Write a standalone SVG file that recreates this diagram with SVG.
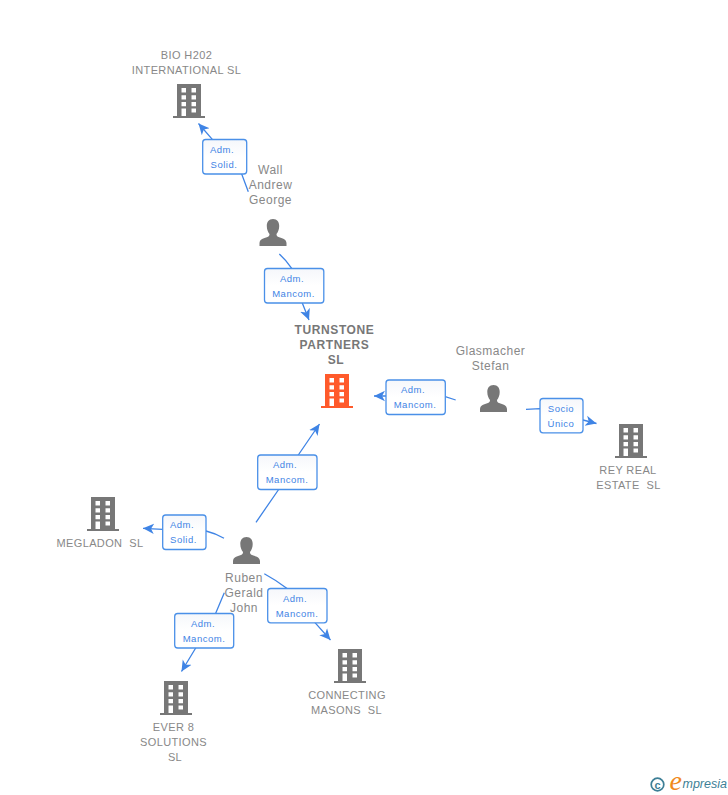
<svg xmlns="http://www.w3.org/2000/svg" xmlns:xlink="http://www.w3.org/1999/xlink" width="728" height="795" viewBox="0 0 728 795">
<style>
text{font-family:"Liberation Sans",Arial,sans-serif}
.n{font-size:11px;fill:#888;text-anchor:middle;letter-spacing:.38px;white-space:pre}
.p{font-size:12px;fill:#888;text-anchor:middle;letter-spacing:.5px}
.main{font-size:12px;fill:#777;font-weight:bold;text-anchor:middle;letter-spacing:.6px}
.l{font-size:9.5px;fill:#3f84e5;text-anchor:middle;letter-spacing:.5px}
.box{fill:url(#bg);stroke:#4a90e8;stroke-width:1.3}
.c{fill:none;stroke:#3f84e5;stroke-width:1.3}
</style>
<defs>
<linearGradient id="bg" x1="0" y1="0" x2="0" y2="1"><stop offset="0" stop-color="#f5f7fb"/><stop offset=".5" stop-color="#fff"/></linearGradient>
<marker id="arr" markerUnits="userSpaceOnUse" markerWidth="12" markerHeight="12" refX="11" refY="6" orient="auto"><path d="M0 .8 L11 6 L0 11.2 L3 6z" fill="#3f84e5"/></marker>
<symbol id="bld" overflow="visible"><path fill-rule="evenodd" d="M0 0H24V32H28V34H-4V32H0ZM4.500 4V8.500H9V4ZM14.500 4V8.500H19V4ZM4.500 11.300V15.600H9V11.300ZM14.500 11.300V15.600H19V11.300ZM4.500 18V22.300H9V18ZM14.500 18V22.300H19V18ZM4.500 24.500V32H9V24.500ZM14.500 24.500V28.500H19V24.500Z"/></symbol>
<symbol id="per" overflow="visible"><path d="M13.5 0C9.3 0 7.3 3.2 7.3 7C7.3 10.5 8.5 13 10 15C10 16.5 9.6 17.4 8 18C4 19.4 .3 20 0 24V27H27V24C26.7 20 23 19.4 19 18C17.4 17.4 17 16.5 17 15C18.5 13 19.7 10.5 19.7 7C19.7 3.2 17.7 0 13.5 0Z"/></symbol>
</defs>
<g id="connectors">
<path class="c" marker-end="url(#arr)" d="M248.3 191.7L241.7 174L212.3 139.3L198.5 123.5"/>
<path class="c" marker-end="url(#arr)" d="M279.3 254Q286 260 291.7 268.3L302.3 303L309 320"/>
<path class="c" marker-end="url(#arr)" d="M455.7 400L445.3 396.7L386 396L374 396"/>
<path class="c" marker-end="url(#arr)" d="M526 409.3L540 408.7L583 420L596.5 423.5"/>
<path class="c" marker-end="url(#arr)" d="M256 522.3L278.3 490L298.3 455L319.5 424"/>
<path class="c" marker-end="url(#arr)" d="M224 538.3Q216 533.5 206 531L162.7 529.3L143 528.3"/>
<path class="c" marker-end="url(#arr)" d="M264.3 573.7Q276 580 286.7 588.3L315 622.7L330.5 640"/>
<path class="c" marker-end="url(#arr)" d="M224.3 592.7L215.7 613.3L195.7 648L181.5 671.5"/>
</g>
<g id="node-bio"><use href="#bld" x="177" y="84" fill="#777"/><text class="n" x="186.500" y="59">BIO H202</text><text class="n" x="186.500" y="74">INTERNATIONAL SL</text></g>
<g id="node-wall"><use href="#per" x="259.500" y="219" fill="#777"/><text class="p" x="270.500" y="174">Wall</text><text class="p" x="270.500" y="189">Andrew</text><text class="p" x="270.500" y="204">George</text></g>
<g id="node-turnstone"><use href="#bld" x="325" y="374" fill="#ff5a2b"/><text class="main" x="334.500" y="334">TURNSTONE</text><text class="main" x="334.500" y="349">PARTNERS</text><text class="main" x="336" y="364">SL</text></g>
<g id="node-glasmacher"><use href="#per" x="480" y="385" fill="#777"/><text class="p" x="490.500" y="355">Glasmacher</text><text class="p" x="490.500" y="370">Stefan</text></g>
<g id="node-rey"><use href="#bld" x="619" y="424" fill="#777"/><text class="n" x="628" y="474">REY REAL</text><text class="n" x="628.500" y="489" xml:space="preserve">ESTATE  SL</text></g>
<g id="node-ruben"><use href="#per" x="233" y="537" fill="#777"/><text class="p" x="244" y="582">Ruben</text><text class="p" x="244" y="597">Gerald</text><text class="p" x="244" y="612">John</text></g>
<g id="node-megladon"><use href="#bld" x="91" y="497" fill="#777"/><text class="n" x="100" y="547" xml:space="preserve">MEGLADON  SL</text></g>
<g id="node-ever8"><use href="#bld" x="164" y="681" fill="#777"/><text class="n" x="173.500" y="731">EVER 8</text><text class="n" x="173.500" y="746">SOLUTIONS</text><text class="n" x="175" y="761">SL</text></g>
<g id="node-connecting"><use href="#bld" x="338" y="649" fill="#777"/><text class="n" x="347" y="699">CONNECTING</text><text class="n" x="346.500" y="714" xml:space="preserve">MASONS  SL</text></g>
<g id="label-1"><rect class="box" x="202.700" y="139.500" width="44" height="34.500" rx="3"/><text class="l" x="222" y="153">Adm.</text><text class="l" x="224" y="168">Solid.</text></g>
<g id="label-2"><rect class="box" x="264.500" y="268.500" width="59.300" height="34.500" rx="3"/><text class="l" x="292" y="282">Adm.</text><text class="l" x="293.500" y="297">Mancom.</text></g>
<g id="label-3"><rect class="box" x="386" y="380" width="59.300" height="34.500" rx="3"/><text class="l" x="413" y="393">Adm.</text><text class="l" x="415" y="408">Mancom.</text></g>
<g id="label-4"><rect class="box" x="540" y="398.500" width="43" height="34.300" rx="3"/><text class="l" x="561" y="412">Socio</text><text class="l" x="561" y="427">Único</text></g>
<g id="label-5"><rect class="box" x="257.700" y="455" width="59.300" height="34.500" rx="3"/><text class="l" x="285" y="468">Adm.</text><text class="l" x="287" y="483">Mancom.</text></g>
<g id="label-6"><rect class="box" x="162.700" y="515" width="43.300" height="34.500" rx="3"/><text class="l" x="182" y="528">Adm.</text><text class="l" x="183.500" y="543">Solid.</text></g>
<g id="label-7"><rect class="box" x="267.700" y="588.500" width="59.300" height="34.300" rx="3"/><text class="l" x="295" y="602">Adm.</text><text class="l" x="297" y="617">Mancom.</text></g>
<g id="label-8"><rect class="box" x="174.700" y="613.500" width="59" height="34.500" rx="3"/><text class="l" x="203" y="627">Adm.</text><text class="l" x="204" y="642">Mancom.</text></g>
<g id="logo"><circle cx="657.500" cy="784.500" r="6.300" fill="none" stroke="#3d7f96" stroke-width="1.700"/><text x="657.500" y="788.500" font-size="11" font-weight="bold" fill="#3d7f96" text-anchor="middle">c</text><text x="669.500" y="790" style="font-family:'Liberation Serif',serif" font-size="28" font-style="italic" fill="#f08a1d">e</text><text x="682.500" y="788" font-size="12.500" font-style="italic" fill="#3d7f96">mpresia</text></g>
</svg>
